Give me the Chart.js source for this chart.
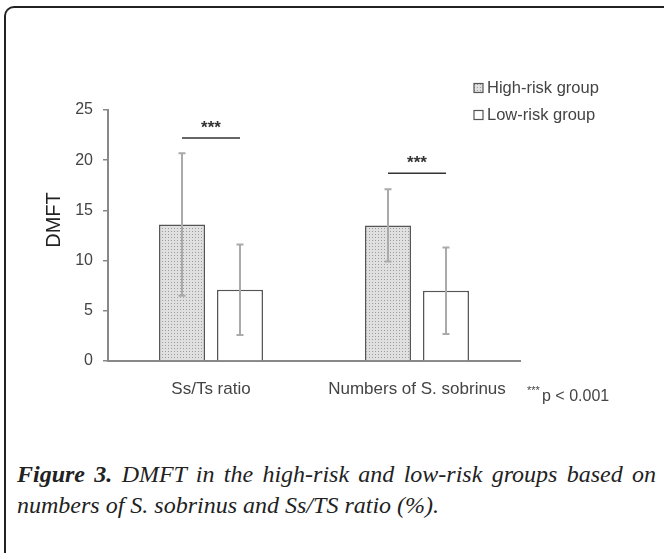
<!DOCTYPE html>
<html>
<head>
<meta charset="utf-8">
<script src="https://cdn.jsdelivr.net/npm/chart.js@4.4.1/dist/chart.umd.min.js"></script>
<style>
  html, body { margin: 0; padding: 0; background: #fff; }
  body { width: 664px; height: 553px; position: relative; overflow: hidden; }
  .frame {
    position: absolute; left: 4px; top: 6px; width: 720px; height: 600px;
    border-top: 2px solid #222; border-left: 2px solid #222;
    border-top-left-radius: 10px;
  }
  #chart { position: absolute; left: 0; top: 0; }
  .caption {
    position: absolute; left: 17px; top: 459px; width: 639px;
    font-family: "Liberation Serif", "DejaVu Serif", serif;
    font-style: italic; font-size: 24px; line-height: 31px; color: #222;
  }
  .caption .l1 { text-align: justify; text-align-last: justify; }
  .caption b { font-weight: bold; }
</style>
</head>
<body>
<div class="frame"></div>
<canvas id="chart" width="664" height="430"></canvas>
<div class="caption">
  <div class="l1"><b>Figure 3.</b> DMFT in the high-risk and low-risk groups based on</div>
  <div>numbers of S. sobrinus and Ss/TS ratio (%).</div>
</div>

<script>
// values
const categories = ["Ss/Ts ratio", "Numbers of S. sobrinus"];
const highRisk = [13.6, 13.5];
const highRiskSD = [7.1, 3.6];
const lowRisk = [7.1, 7.0];
const lowRiskSD = [4.5, 4.3];
const sigLevel = [22.2, 18.7];
const yTicks = [0, 5, 10, 15, 20, 25];

const FONT = '"Liberation Sans", Arial, sans-serif';

// stippled grey fill for the high-risk bars
function makePattern() {
    const c = document.createElement("canvas");
    c.width = 3;
    c.height = 3;
    const g = c.getContext("2d");
    g.fillStyle = "#e0e0e0";
    g.fillRect(0, 0, 3, 3);
    g.fillStyle = "#9c9c9c";
    g.fillRect(0, 0, 1, 1);
    return g.createPattern(c, "repeat");
}
const ctx = document.getElementById("chart").getContext("2d");
const stipple = makePattern();

const extras = {
    id: "extras",
    afterDatasetsDraw(chart) {
        const c = chart.ctx;
        const y = chart.scales.y;
        const sds = [highRiskSD, lowRiskSD];
        c.save();
        // error bars
        c.strokeStyle = "#aaaaaa";
        c.lineWidth = 2;
        sds.forEach((sd, di) => {
            const meta = chart.getDatasetMeta(di);
            const vals = chart.data.datasets[di].data;
            meta.data.forEach((bar, i) => {
                const top = y.getPixelForValue(vals[i] + sd[i]);
                const bot = y.getPixelForValue(vals[i] - sd[i]);
                c.beginPath();
                c.moveTo(bar.x, top);
                c.lineTo(bar.x, bot);
                c.moveTo(bar.x - 3.5, top);
                c.lineTo(bar.x + 3.5, top);
                c.moveTo(bar.x - 3.5, bot);
                c.lineTo(bar.x + 3.5, bot);
                c.stroke();
            });
        });
        // significance brackets
        const m0 = chart.getDatasetMeta(0), m1 = chart.getDatasetMeta(1);
        c.strokeStyle = "#333";
        c.lineWidth = 1.5;
        c.fillStyle = "#333";
        c.font = "bold 17px " + FONT;
        c.textAlign = "center";
        c.textBaseline = "middle";
        sigLevel.forEach((lv, i) => {
            const py = y.getPixelForValue(lv);
            const x0 = m0.data[i].x, x1 = m1.data[i].x;
            c.beginPath();
            c.moveTo(x0, py);
            c.lineTo(x1, py);
            c.stroke();
            c.fillText("***", (x0 + x1) / 2, py - 10);
        });
        c.restore();
    },
    afterDraw(chart) {
        const c = chart.ctx;
        const area = chart.chartArea;
        c.save();
        // y title
        c.fillStyle = "#222";
        c.font = "20px " + FONT;
        c.textAlign = "center";
        c.textBaseline = "middle";
        c.translate(54, 220);
        c.rotate(-Math.PI / 2);
        c.fillText("DMFT", 0, 0);
        c.restore();

        // legend
        c.save();
        const items = chart.data.datasets;
        items.forEach((ds, i) => {
            const cy = 88 + i * 27;
            c.fillStyle = ds.backgroundColor;
            c.fillRect(474, cy - 4.5, 9, 9);
            c.strokeStyle = "#555";
            c.lineWidth = 1.2;
            c.strokeRect(474, cy - 4.5, 9, 9);
            c.fillStyle = "#444";
            c.font = "16.5px " + FONT;
            c.textAlign = "left";
            c.textBaseline = "middle";
            c.fillText(ds.label, 487, cy);
        });

        // p value note
        c.fillStyle = "#444";
        c.textBaseline = "middle";
        c.font = "11px " + FONT;
        c.fillText("***", area.right + 7, 391);
        c.font = "16px " + FONT;
        c.fillText("p < 0.001", area.right + 22, 397);
        c.restore();
    },
};

new Chart(ctx, {
    type: "bar",
    data: {
        labels: categories,
        datasets: [
            {
                label: "High-risk group",
                data: highRisk,
                backgroundColor: stipple,
                borderColor: "#555",
                borderWidth: 1.5,
            },
            {
                label: "Low-risk group",
                data: lowRisk,
                backgroundColor: "#ffffff",
                borderColor: "#555",
                borderWidth: 1.5,
            },
        ],
    },
    options: {
        responsive: false,
        animation: false,
        layout: { padding: { top: 110, right: 144, left: 0, bottom: 0 } },
        datasets: {
            bar: { categoryPercentage: 0.563, barPercentage: 0.793 },
        },
        plugins: {
            legend: { display: false },
            tooltip: { enabled: false },
        },
        scales: {
            x: {
                grid: { display: false },
                border: { color: "#888", width: 2 },
                ticks: {
                    color: "#444",
                    font: { family: FONT, size: 17 },
                    padding: 10,
                },
                afterFit(scale) {
                    scale.height = 69;
                },
            },
            y: {
                min: yTicks[0],
                max: yTicks[yTicks.length - 1],
                afterBuildTicks(scale) {
                    scale.ticks = yTicks.map((v) => ({ value: v }));
                },
                grid: {
                    drawOnChartArea: false,
                    drawTicks: true,
                    tickLength: 5,
                    color: "#888",
                    lineWidth: 1.5,
                },
                border: { color: "#888", width: 2 },
                ticks: {
                    color: "#444",
                    font: { family: FONT, size: 16 },
                    padding: 10,
                },
                afterFit(scale) {
                    scale.width = 108;
                },
            },
        },
    },
    plugins: [extras],
});
</script>
</body>
</html>
